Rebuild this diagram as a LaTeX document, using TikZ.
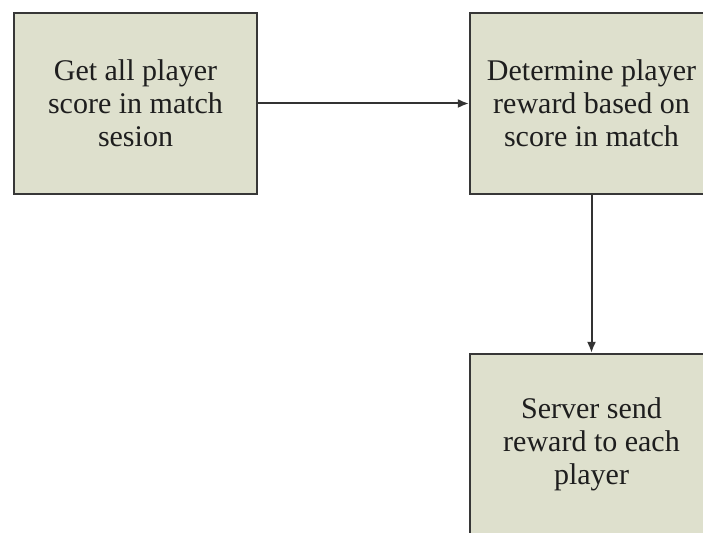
\documentclass[tikz,border=0pt]{standalone}
\usepackage{fontspec}
\setmainfont{Liberation Serif}
\usetikzlibrary{arrows.meta}
\definecolor{boxfill}{RGB}{222,224,205}
\definecolor{boxline}{RGB}{55,55,55}
\definecolor{inkc}{RGB}{30,30,30}
\begin{document}
\begin{tikzpicture}[x=1pt,y=1pt,
  stepbox/.style={draw=boxline,line width=2.2pt,fill=boxfill,
    minimum width=243pt,minimum height=181pt,inner sep=0pt,
    text=inkc,align=center,
    font=\fontsize{30}{33}\selectfont},
  flow/.style={draw=black!80,line width=2pt,
    -{Latex[length=11pt,width=9pt]}}]
\useasboundingbox (0,0) rectangle (703,532);
\clip (0,0) rectangle (703,532);
\fill[white] (0,0) rectangle (703,532);
\node[stepbox] (get) at (135.5,428.5) {Get all player\\score in match\\sesion};
\node[stepbox] (det) at (591.5,428.5) {Determine player\\reward based on\\score in match};
\node[stepbox] (send) at (591.5,87.5) {Server send\\reward to each\\player};
\draw[flow] (get.east) -- (det.west);
\draw[flow] (det.south) -- (send.north);
\end{tikzpicture}
\end{document}
